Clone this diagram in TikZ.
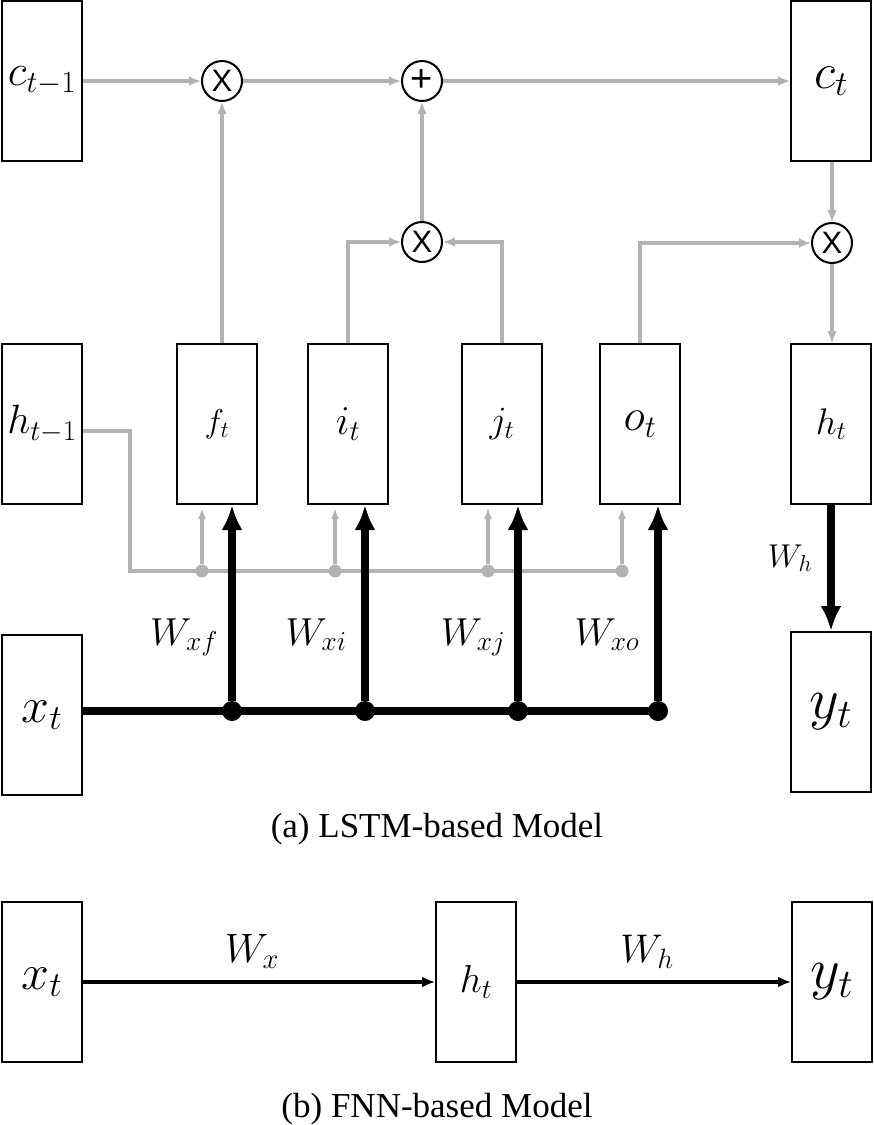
\RequirePackage{fix-cm}
\documentclass[tikz,border=0pt]{standalone}
\usepackage{fontspec}
\newfontfamily\capfont{Liberation Serif}
\newfontfamily\opfont{Liberation Sans}
\usetikzlibrary{arrows.meta,positioning}
\definecolor{wire}{HTML}{B2B2B2}
\newcommand{\fsz}[1]{\fontsize{#1}{#1}\selectfont}
\tikzset{>=Latex,
  cell/.style={draw,line width=2pt,minimum width=80pt,minimum height=160pt,inner sep=0pt},
  op/.style={circle,draw,line width=2pt,minimum size=40pt,inner sep=0pt,font=\opfont\fsz{31}},
  flow/.style={draw=wire,line width=4pt,-{Latex[length=12pt,width=10pt]}},
  tapflow/.style={draw=wire,line width=3.5pt,-{Latex[length=11pt,width=8pt]},shorten >=3pt},
  tap/.style={circle,fill=wire,inner sep=0pt,minimum size=13pt},
  joint/.style={circle,fill=black,inner sep=0pt,minimum size=20pt},
  bus/.style={line width=7.5pt},
  weight/.style={line width=7.5pt,-{Latex[length=25pt,width=21pt]}},
  ffarrow/.style={line width=4pt,-{Latex[length=13pt,width=11pt]}},
  wlabel/.style={anchor=base},
  caption/.style={anchor=base,font=\capfont\fsz{35}}}

\begin{document}
\begin{tikzpicture}[x=1pt,y=-1pt]
\useasboundingbox (0,0) rectangle (874,1125);
% (a) LSTM cell
\node[cell,font=\fsz{44}] (cprev) at (42,81) {$c_{t-1}$};
\node[cell,font=\fsz{50}] (ct) at (831,81) {$c_t$};
\node[cell,font=\fsz{41}] (hprev) at (42,424) {$h_{t-1}$};
\node[cell,font=\fsz{33}] (ft) at (217,424) {$f_t$};
\node[cell,font=\fsz{41}] (it) at (348,424) {$i_t$};
\node[cell,font=\fsz{37}] (jt) at (502,424) {$j_t$};
\node[cell,font=\fsz{45}] (ot) at (640,424) {$o_t$};
\node[cell,font=\fsz{37}] (ht) at (831,424) {$h_t$};
\node[cell,font=\fsz{50}] (xt) at (42,715) {$x_t$};
\node[cell,font=\fsz{58}] (yt) at (831,712) {$y_t$};

\node[op] (m1) at (222,81) {X};
\node[op,font=\opfont\fsz{38}] (add) at (422,81) {+};
\node[op] (m2) at (422,242) {X};
\node[op] (m3) at (832,243) {X};

\draw[flow] (cprev.east |- m1) -- (m1);
\draw[flow] (m1) -- (add);
\draw[flow] (add) -- (ct.west |- add);
\draw[flow] (m1 |- ft.north) -- (m1);
\draw[flow] (it.north) |- (m2);
\draw[flow] (jt.north) |- (m2);
\draw[flow] (m2) -- (add);
\draw[flow] (ot.north) |- (m3);
\draw[flow] (m3 |- ct.south) -- (m3);
\draw[flow] (m3) -- (m3 |- ht.north);

% h_{t-1} taps
\coordinate (hbus) at (130,571);
\foreach \g/\x in {ft/202,it/335,jt/488,ot/622}{
  \node[tap] (tap-\g) at (\x,571) {};
  \draw[tapflow] (tap-\g) -- (tap-\g |- \g.south);
}
\draw[draw=wire,line width=4pt] ([yshift=-7pt]hprev.east) -| (hbus) -- (tap-ot.center);

% x_t weights
\foreach \g/\x in {ft/232,it/365,jt/518,ot/658}{
  \node[joint] (jn-\g) at (\x,711) {};
  \draw[weight] (jn-\g) -- (jn-\g |- \g.south);
}
\draw[bus] (xt.east |- jn-ot) -- (jn-ot.center);
\node[wlabel,font=\fsz{39}] (wxf) at (184,645) {$W_{xf}$};
\node[wlabel,font=\fsz{39}] (wxi) at (316,645) {$W_{xi}$};
\node[wlabel,font=\fsz{39}] (wxj) at (473,645) {$W_{xj}$};
\node[wlabel,font=\fsz{39}] (wxo) at (607,645) {$W_{xo}$};
\draw[weight] (ht) -- (yt);
\node[wlabel,font=\fsz{33}] (wh) at (790,567) {$W_h$};

\node[caption] (capa) at (437,837) {(a) LSTM-based Model};

% (b) FNN
\node[cell,font=\fsz{50}] (xt2) at (42,982) {$x_t$};
\node[cell,font=\fsz{39}] (ht2) at (476,982) {$h_t$};
\node[cell,font=\fsz{58}] (yt2) at (832,982) {$y_t$};
\draw[ffarrow] (xt2) -- (ht2);
\draw[ffarrow] (ht2) -- (yt2);
\node[wlabel,font=\fsz{41}] (wx2) at (252,962) {$W_x$};
\node[wlabel,font=\fsz{40}] (wh2) at (647,962) {$W_h$};

\node[caption] (capb) at (437,1117) {(b) FNN-based Model};
\end{tikzpicture}
\end{document}
